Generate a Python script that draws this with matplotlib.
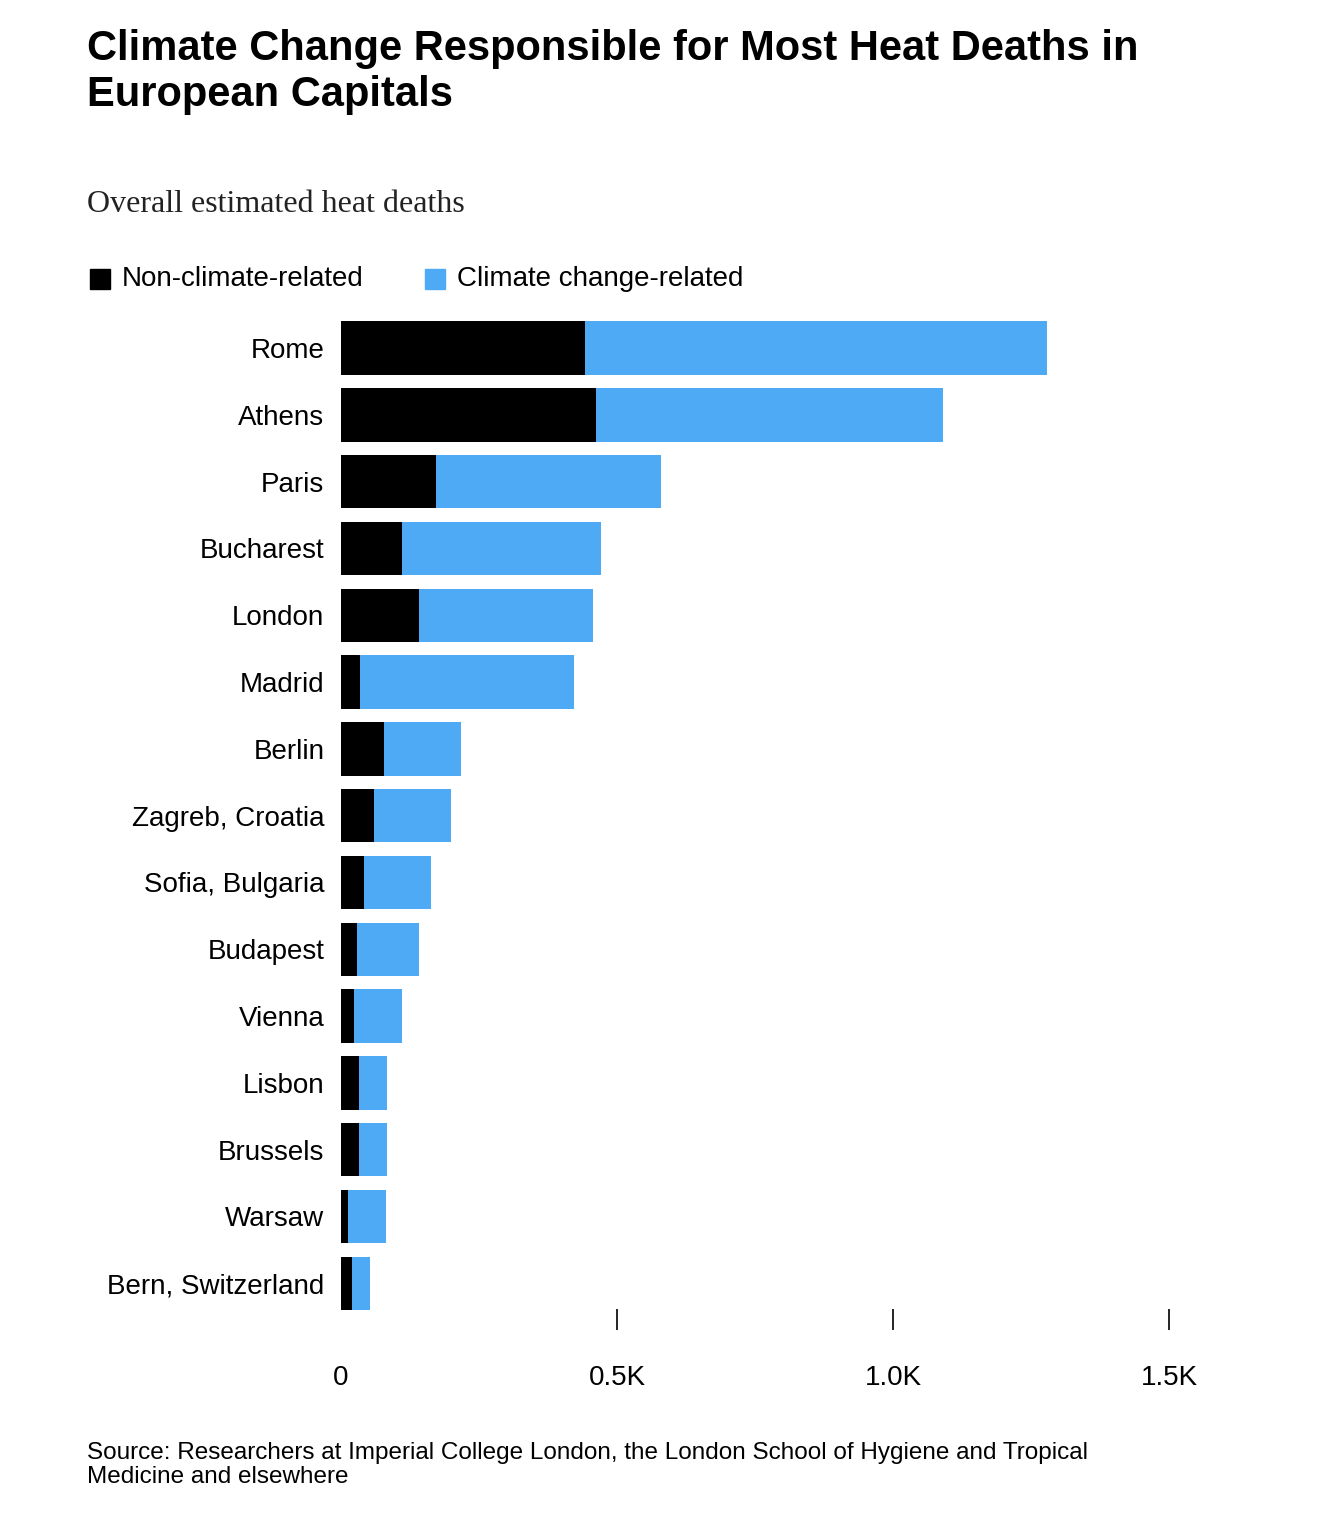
import matplotlib.pyplot as plt
import numpy as np

plt.rcParams['font.family'] = ['Liberation Sans', 'DejaVu Sans']

cities = ['Rome', 'Athens', 'Paris', 'Bucharest', 'London', 'Madrid', 'Berlin',
          'Zagreb, Croatia', 'Sofia, Bulgaria', 'Budapest', 'Vienna', 'Lisbon',
          'Brussels', 'Warsaw', 'Bern, Switzerland']
non_climate = [442, 462, 172, 110, 141, 34, 78, 60, 42, 29, 24, 33, 33, 13, 20]
totals = [1279, 1091, 580, 471, 457, 422, 217, 199, 163, 141, 110, 83, 83, 81, 53]
climate = [t - n for t, n in zip(totals, non_climate)]

BLACK = '#000000'
BLUE = '#4eaaf5'

W, H = 1320, 1540
fig = plt.figure(figsize=(13.2, 15.4), dpi=100)
ax = fig.add_axes([341 / W, 1 - 1330 / H, (1200 - 341) / W, (1330 - 308) / H])

y = np.arange(len(cities))
ax.barh(y, non_climate, height=0.8, color=BLACK)
ax.barh(y, climate, left=non_climate, height=0.8, color=BLUE)
ax.set_yticks(y)
ax.set_yticklabels(cities, fontsize=20)
ax.invert_yaxis()
ax.set_ylim(len(cities) - 0.3, -0.6)
ax.set_xlim(0, 1556)
ax.set_xticks([0, 500, 1000, 1500])
ax.set_xticklabels(['0', '0.5K', '1.0K', '1.5K'], fontsize=20)
ax.tick_params(axis='y', length=0, pad=12)
ax.tick_params(axis='x', direction='in', length=15, width=1.2, pad=25)
ax.xaxis.get_major_ticks()[0].tick1line.set_visible(False)
for s in ax.spines.values():
    s.set_visible(False)

fig.text(87 / W, 1 - 72 / H, 'Climate Change Responsible for Most Heat Deaths in\nEuropean Capitals',
         fontsize=30, fontweight='bold', va='center', linespacing=1.2)
fig.text(87 / W, 1 - 205 / H, 'Overall estimated heat deaths', fontsize=23,
         family='Liberation Serif', va='center', color='#222222')

# legend
fig.patches.append(plt.Rectangle((90 / W, 1 - 289 / H), 20 / W, 20 / H, color=BLACK, transform=fig.transFigure))
fig.text(122 / W, 1 - 279 / H, 'Non-climate-related', fontsize=20, va='center')
fig.patches.append(plt.Rectangle((425 / W, 1 - 289 / H), 20 / W, 20 / H, color=BLUE, transform=fig.transFigure))
fig.text(457 / W, 1 - 279 / H, 'Climate change-related', fontsize=20, va='center')

fig.text(87 / W, 1 - 1465 / H,
         'Source: Researchers at Imperial College London, the London School of Hygiene and Tropical\nMedicine and elsewhere',
         fontsize=17.5, va='center', linespacing=1.1)

fig.savefig('out.png', dpi=100)
